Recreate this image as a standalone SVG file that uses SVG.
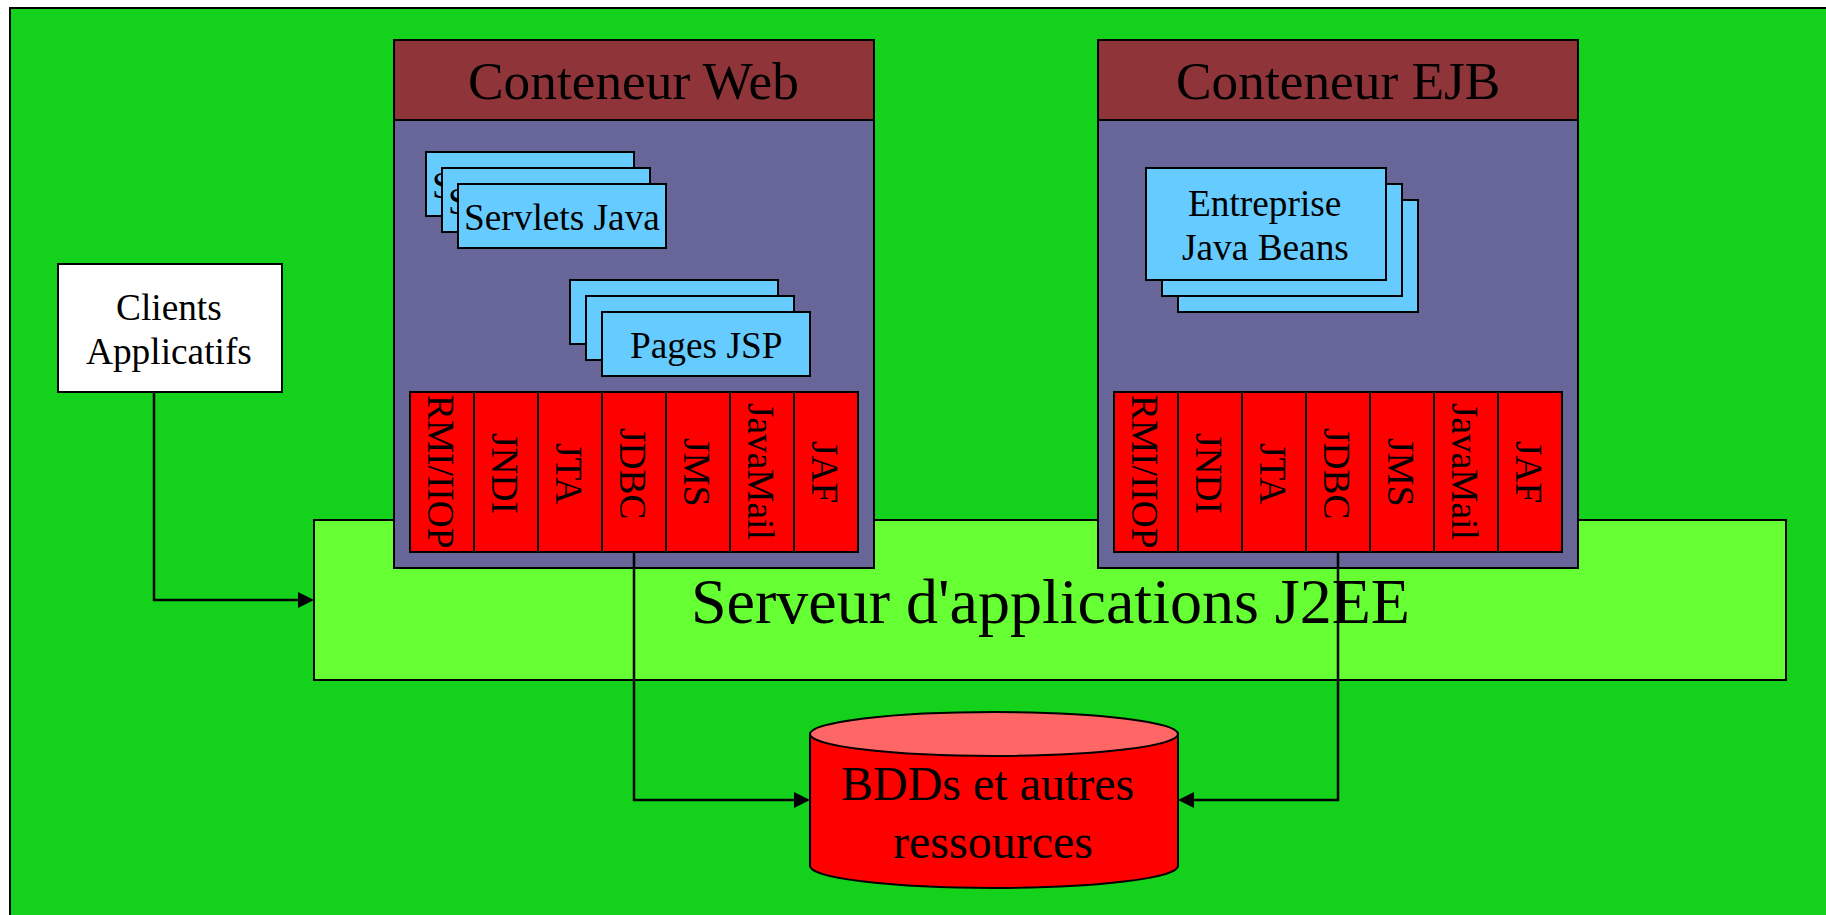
<svg xmlns="http://www.w3.org/2000/svg" width="1826" height="915" viewBox="0 0 1826 915">
<style>
text{font-family:"Liberation Serif","Times New Roman",serif;fill:#000}
rect,ellipse,path.s{stroke:#000;stroke-width:2}
.hd{fill:#8f3539}.bd{fill:#666699}.bl{fill:#66ccff}.rd{fill:#ff0000}
.t36{font-size:37.33px}.t52{font-size:53.33px}.t48{font-size:48px}.t58{font-size:64px}
.c{fill:none;stroke:#000;stroke-width:2.5}
</style>
<defs>
<marker id="arr" markerUnits="userSpaceOnUse" markerWidth="16" markerHeight="16" refX="16" refY="8" orient="auto"><path d="M0 0L16 8L0 16Z" fill="#000"/></marker>
</defs>
<rect id="background" x="10" y="8" width="1840" height="930" fill="#14d21c"/>
<g id="serveur">
<rect x="314" y="520" width="1472" height="160" fill="#66ff33"/>
<text class="t58" x="691" y="623">Serveur d'applications J2EE</text>
</g>
<g id="clients">
<rect x="58" y="264" width="224" height="128" fill="#fff"/>
<text class="t36" x="116" y="320">Clients</text>
<text class="t36" x="86" y="364">Applicatifs</text>
</g>
<g id="conteneur-web">
<rect class="bd" x="394" y="120" width="480" height="448"/>
<rect class="hd" x="394" y="40" width="480" height="80"/>
<text class="t52" x="468" y="99">Conteneur Web</text>
</g>
<g id="servlets">
<rect class="bl" x="426" y="152" width="208" height="64"/><text class="t36" x="432" y="198">Servlets Java</text>
<rect class="bl" x="442" y="168" width="208" height="64"/><text class="t36" x="448" y="214">Servlets Java</text>
<rect class="bl" x="458" y="184" width="208" height="64"/><text class="t36" x="464" y="230">Servlets Java</text>
</g>
<g id="jsp">
<rect class="bl" x="570" y="280" width="208" height="64"/>
<rect class="bl" x="586" y="296" width="208" height="64"/>
<rect class="bl" x="602" y="312" width="208" height="64"/>
<text class="t36" x="630" y="358">Pages JSP</text>
</g>
<g id="services-web">
<rect class="rd" x="410" y="392" width="64" height="160"/>
<rect class="rd" x="474" y="392" width="64" height="160"/>
<rect class="rd" x="538" y="392" width="64" height="160"/>
<rect class="rd" x="602" y="392" width="64" height="160"/>
<rect class="rd" x="666" y="392" width="64" height="160"/>
<rect class="rd" x="730" y="392" width="64" height="160"/>
<rect class="rd" x="794" y="392" width="64" height="160"/>
<text class="t36" transform="translate(428 395) rotate(90)">RMI/IIOP</text>
<text class="t36" transform="translate(492 433) rotate(90)">JNDI</text>
<text class="t36" transform="translate(556 443) rotate(90)">JTA</text>
<text class="t36" transform="translate(620 428) rotate(90)">JDBC</text>
<text class="t36" transform="translate(684 438) rotate(90)">JMS</text>
<text class="t36" transform="translate(748 403) rotate(90)">JavaMail</text>
<text class="t36" transform="translate(812 441) rotate(90)">JAF</text>
</g>
<g id="conteneur-ejb">
<rect class="bd" x="1098" y="120" width="480" height="448"/>
<rect class="hd" x="1098" y="40" width="480" height="80"/>
<text class="t52" x="1176" y="99">Conteneur EJB</text>
</g>
<g id="ejb">
<rect class="bl" x="1178" y="200" width="240" height="112"/>
<rect class="bl" x="1162" y="184" width="240" height="112"/>
<rect class="bl" x="1146" y="168" width="240" height="112"/>
<text class="t36" x="1188" y="216">Entreprise</text>
<text class="t36" x="1182" y="260">Java Beans</text>
</g>
<g id="services-ejb">
<rect class="rd" x="1114" y="392" width="64" height="160"/>
<rect class="rd" x="1178" y="392" width="64" height="160"/>
<rect class="rd" x="1242" y="392" width="64" height="160"/>
<rect class="rd" x="1306" y="392" width="64" height="160"/>
<rect class="rd" x="1370" y="392" width="64" height="160"/>
<rect class="rd" x="1434" y="392" width="64" height="160"/>
<rect class="rd" x="1498" y="392" width="64" height="160"/>
<text class="t36" transform="translate(1132 395) rotate(90)">RMI/IIOP</text>
<text class="t36" transform="translate(1196 433) rotate(90)">JNDI</text>
<text class="t36" transform="translate(1260 443) rotate(90)">JTA</text>
<text class="t36" transform="translate(1324 428) rotate(90)">JDBC</text>
<text class="t36" transform="translate(1388 438) rotate(90)">JMS</text>
<text class="t36" transform="translate(1452 403) rotate(90)">JavaMail</text>
<text class="t36" transform="translate(1516 441) rotate(90)">JAF</text>
</g>
<g id="bdd">
<path class="s" d="M810 734V866A184 22 0 0 0 1178 866V734Z" fill="#ff0000"/>
<ellipse cx="994" cy="734" rx="184" ry="22" fill="#ff6666"/>
<text class="t48" x="841" y="800">BDDs et autres</text>
<text class="t48" x="893" y="858">ressources</text>
</g>
<g id="connectors">
<path class="c" d="M154 392V600H300" />
<path d="M298 592L314 600L298 608Z" fill="#000"/>
<path class="c" d="M634 552V800H796"/>
<path d="M794 792L810 800L794 808Z" fill="#000"/>
<path class="c" d="M1338 552V800H1192"/>
<path d="M1194 792L1178 800L1194 808Z" fill="#000"/>
</g>
</svg>
